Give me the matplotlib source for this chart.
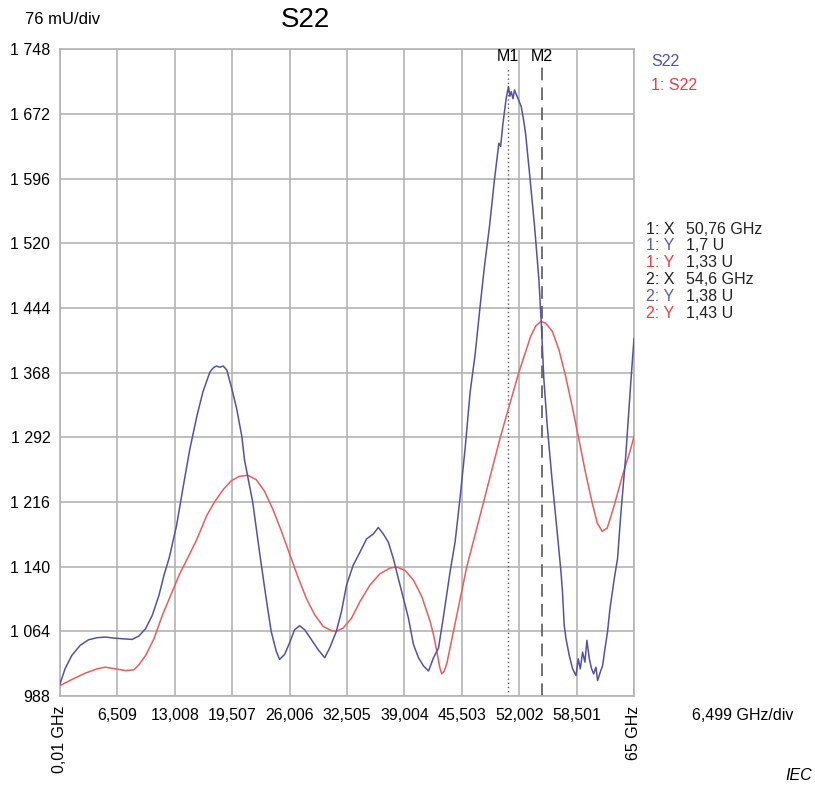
import matplotlib
matplotlib.use("Agg")
import matplotlib.pyplot as plt

plt.rcParams['font.family'] = ['Liberation Sans', 'DejaVu Sans']

# blue trace (S22), x in GHz, y in mU
blue_x = [0.01, 0.58, 1.34, 2.29, 3.24, 4.19, 5.14, 6.09, 7.04, 8.18, 8.94, 9.7, 10.46,
          11.22, 11.79, 12.36, 13.2, 13.97, 14.7, 15.5, 16.2, 17.0, 17.4, 17.7, 18.1, 18.5,
          18.9, 19.45, 20.0, 20.6, 20.9, 21.84, 22.6, 23.35, 23.92, 24.49, 24.87, 25.44,
          26.0, 26.57, 27.14, 27.71, 28.47, 29.23, 29.98, 30.55, 31.3, 31.88, 32.45, 33.2,
          33.97, 34.72, 35.48, 36.05, 36.62, 37.19, 37.76, 38.32, 38.89, 39.46, 40.03,
          40.6, 41.17, 41.74, 42.3, 42.87, 43.4, 44.18, 44.75, 45.3, 45.88, 46.45, 47.0,
          47.58, 48.07, 48.64, 49.2, 49.7, 49.9, 50.15, 50.53, 50.79, 50.95, 51.1, 51.3,
          51.47, 51.85, 52.23, 52.5, 52.72, 53.17, 53.74, 54.23, 54.5, 54.79, 55.17, 55.74,
          56.3, 56.73, 56.9, 57.1, 57.3, 57.67, 58.05, 58.43, 58.69, 58.92, 59.18, 59.44,
          59.67, 59.94, 60.2, 60.43, 60.69, 60.88, 61.18, 61.45, 61.71, 62.0, 62.28, 62.5,
          62.77, 63.14, 63.5, 64.07, 64.64, 65.0]
blue_y = [1002.2, 1019.9, 1035.6, 1047.5, 1054.1, 1056.5, 1057.3, 1056.1, 1055.3, 1054.5,
          1058.5, 1067.1, 1082.9, 1106.5, 1130.2, 1149.8, 1188, 1234.7, 1277.6, 1316.6,
          1345.8, 1369.2, 1374, 1375.8, 1374.5, 1375.8, 1371, 1349.7, 1326.3, 1293, 1265.6,
          1215.2, 1157, 1102.8, 1064, 1040.7, 1031, 1036.8, 1050.4, 1065.9, 1070.6, 1065.9,
          1054.3, 1042.6, 1033, 1044.6, 1064, 1087.3, 1118.3, 1141.5, 1157, 1172.6, 1178.4,
          1186.1, 1178.4, 1168.7, 1149.3, 1126, 1102.8, 1079.5, 1048.5, 1033, 1023.3,
          1017.4, 1033, 1044.6, 1079.6, 1134.3, 1169.5, 1220.4, 1279, 1345.5, 1388.5,
          1446.4, 1493.3, 1540.2, 1594.8, 1637.8, 1634, 1660, 1690.6, 1704.2, 1693, 1698.4,
          1690, 1700.3, 1690.6, 1680.8, 1665, 1649.5, 1602.7, 1540.2, 1477.6, 1426.9,
          1361, 1306.4, 1240, 1181.2, 1134, 1110.5, 1071, 1055.3, 1035.6, 1019.9, 1012,
          1031.7, 1019.9, 1039.6, 1027.8, 1053.4, 1031.7, 1019.9, 1014, 1021.9, 1006.1,
          1016, 1023.8, 1043.5, 1063.2, 1090.8, 1106.5, 1126.2, 1149.8, 1200.8, 1271,
          1357, 1408]

# red trace (1: S22)
red_x = [0.01, 1.34, 2.86, 4.19, 5.14, 6.28, 7.42, 8.37, 8.94, 9.7, 10.65, 11.6, 12.55,
         13.5, 14.45, 15.5, 16.6, 17.5, 18.5, 19.4, 20.32, 21.27, 22.22, 23.16, 24.11,
         25.06, 26.0, 26.95, 27.9, 28.85, 29.8, 30.74, 31.3, 32.07, 33.02, 33.97, 35.1,
         36.24, 37.38, 38.13, 39.08, 40.03, 40.98, 41.92, 42.3, 42.68, 43.0, 43.23, 43.5,
         43.8, 44.56, 46.07, 47.97, 49.86, 51.95, 53.3, 53.86, 54.43, 54.99, 55.75, 56.5,
         57.26, 58.0, 58.77, 59.52, 60.27, 60.84, 61.4, 61.97, 62.73, 63.67, 64.6, 65.0]
red_y = [1000.2, 1007.3, 1014.8, 1019.9, 1021.9, 1019.9, 1017.9, 1018.7, 1024.6, 1035.6,
         1055.3, 1082.9, 1106.5, 1130.2, 1149.8, 1172, 1199.6, 1216, 1230.8, 1241, 1246.2,
         1247.4, 1242.4, 1228.8, 1207.5, 1182.3, 1155.1, 1128, 1102.8, 1083.4, 1069.8,
         1064.8, 1064, 1067.9, 1079.5, 1098.9, 1118.3, 1131.8, 1138.4, 1139.6, 1135.7,
         1124.1, 1104.7, 1075.6, 1060, 1040, 1022, 1014, 1017, 1026, 1064, 1140, 1216,
         1292, 1368, 1410.7, 1422.5, 1428.3, 1426.4, 1416.6, 1395, 1363.7, 1328.4,
         1289.2, 1250, 1214.8, 1191.3, 1181.5, 1185.4, 1210.9, 1246.1, 1277.5, 1293]

y_ticks = [988, 1064, 1140, 1216, 1292, 1368, 1444, 1520, 1596, 1672, 1748]
y_labels = ["988", "1 064", "1 140", "1 216", "1 292", "1 368", "1 444", "1 520",
            "1 596", "1 672", "1 748"]
x_ticks = [0.01, 6.509, 13.008, 19.507, 26.006, 32.505, 39.004, 45.503, 52.002, 58.501, 65]
x_labels = ["0,01 GHz", "6,509", "13,008", "19,507", "26,006", "32,505", "39,004",
            "45,503", "52,002", "58,501", "65 GHz"]

m1_x, m2_x = 50.76, 54.6
readout = [("1: X", "50,76 GHz", "#222222"), ("1: Y", "1,7 U", "#5a5ab0"),
           ("1: Y", "1,33 U", "#f03c3c"), ("2: X", "54,6 GHz", "#222222"),
           ("2: Y", "1,38 U", "#5a5ab0"), ("2: Y", "1,43 U", "#f03c3c")]

blue_c = "#5252ac"
red_c = "#f05a5a"
grid_c = "#b4b4b4"
fs = 11.5

fig = plt.figure(figsize=(8.15, 7.85), dpi=100)
ax = fig.add_axes([60/815, 1-696/785, (634-60)/815, (696-49.4)/785])

ax.plot(red_x, red_y, color=red_c, lw=1.1, zorder=3)
ax.plot(blue_x, blue_y, color=blue_c, lw=1.1, zorder=4)

ax.set_xlim(0.01, 65)
ax.set_ylim(988, 1748)
ax.set_yticks(y_ticks)
ax.set_yticklabels(y_labels, fontsize=fs)
ax.set_xticks(x_ticks)
ax.set_xticklabels([])
ax.tick_params(length=0, pad=7)
ax.grid(True, color=grid_c, lw=1.2)
for s in ax.spines.values():
    s.set_color(grid_c)
    s.set_linewidth(1.2)

# x tick labels: end ones rotated
for xv, lab in zip(x_ticks, x_labels):
    if lab.endswith("GHz"):
        ax.text(xv, -0.015, lab, transform=ax.get_xaxis_transform(), rotation=90,
                ha="center", va="top", fontsize=fs)
    else:
        ax.text(xv, -0.018, lab, transform=ax.get_xaxis_transform(),
                ha="center", va="top", fontsize=fs)

# markers
ax.axvline(m1_x, ymax=0.973, color="#555555", lw=1.0, ls=(0, (1, 2)), zorder=2)
ax.axvline(m2_x, ymax=0.973, color="#666666", lw=1.3, ls=(0, (7, 4)), zorder=2)
ax.text(m1_x, 1.0, "M1", transform=ax.get_xaxis_transform(), ha="center", va="top",
        fontsize=11.5)
ax.text(m2_x, 1.0, "M2", transform=ax.get_xaxis_transform(), ha="center", va="top",
        fontsize=11.5)

fig.text(25/815, 1-20/785, "76 mU/div", fontsize=12, va="center")
fig.text(305/815, 1-20/785, "S22", fontsize=20, va="center", ha="center")
fig.text(743/815, 1-716/785, "6,499 GHz/div", fontsize=fs, va="center", ha="center")
fig.text(812/815, 1-775/785, "IEC", fontsize=fs, va="center", ha="right", style="italic")
fig.text(651/815, 1-62/785, "S22", fontsize=fs, va="center", color=blue_c)
fig.text(651/815, 1-86/785, "1: S22", fontsize=fs, va="center", color="#f03c3c")

for i, (a, b, c) in enumerate(readout):
    yy = 1 - (229 + i*16.8)/785
    fig.text(646/815, yy, a, fontsize=fs, va="center", color=c)
    fig.text(686/815, yy, b, fontsize=fs, va="center", color="#222222")

fig.savefig("out.png", dpi=100)
